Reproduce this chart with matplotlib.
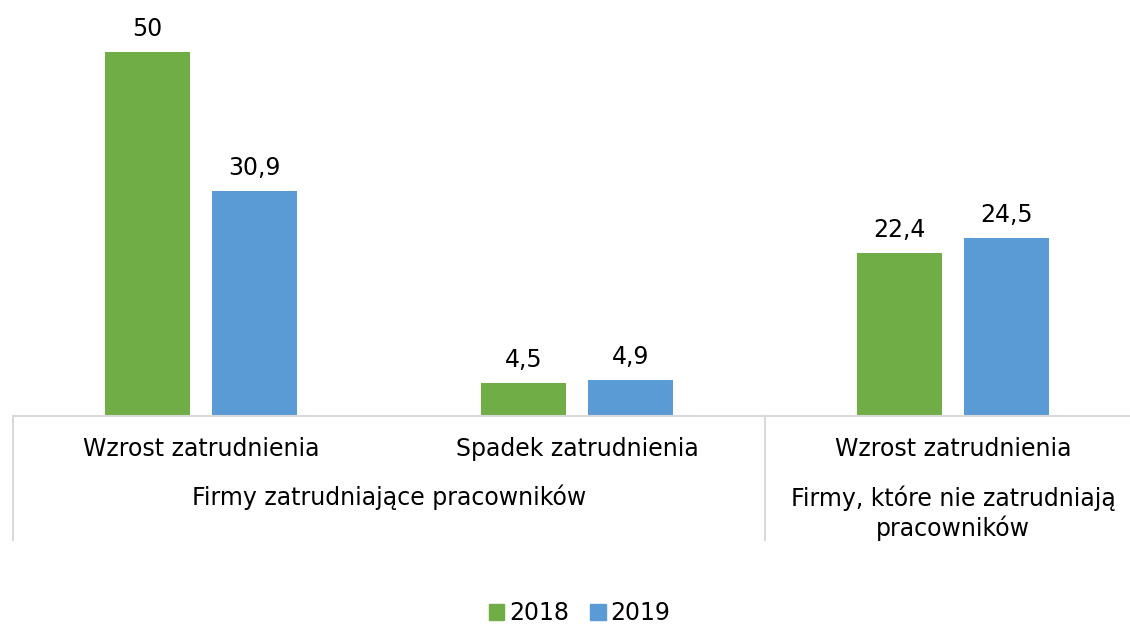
import matplotlib.pyplot as plt
import matplotlib.transforms as mtransforms
from matplotlib.patches import Patch
import numpy as np

# data
categories = ["Wzrost zatrudnienia", "Spadek zatrudnienia", "Wzrost zatrudnienia"]
groups = ["Firmy zatrudniające pracowników", "Firmy, które nie zatrudniają\npracowników"]
series = ["2018", "2019"]
values_2018 = [50, 4.5, 22.4]
values_2019 = [30.9, 4.9, 24.5]

green = "#70AD47"
blue = "#5B9BD5"
grid_col = "#D9D9D9"
fs = 17


def fmt(v):
    if float(v).is_integer():
        return str(int(v))
    return str(v).replace(".", ",")


fig = plt.figure(figsize=(11.3, 6.25), dpi=100)
ax = fig.add_axes([13 / 1130, 1 - 416 / 625, 1128 / 1130, 406 / 625])

x = np.arange(len(categories))
w = 0.224
off = 0.1425
b1 = ax.bar(x - off, values_2018, w, color=green)
b2 = ax.bar(x + off, values_2019, w, color=blue)
ax.bar_label(b1, labels=[fmt(v) for v in values_2018], padding=8, fontsize=fs)
ax.bar_label(b2, labels=[fmt(v) for v in values_2019], padding=8, fontsize=fs)

ax.set_xlim(-0.5, 2.5)
ax.set_ylim(0, 406 / 7.28)
ax.set_yticks([])
ax.set_xticks(x)
ax.set_xticklabels(categories, fontsize=fs)
ax.tick_params(axis="x", length=0, pad=15)
for s in ["top", "right", "left"]:
    ax.spines[s].set_visible(False)
ax.spines["bottom"].set_color(grid_col)
ax.spines["bottom"].set_linewidth(1.5)

trans = mtransforms.blended_transform_factory(ax.transData, ax.transAxes)
px = 1 / 406
# group labels
ax.text(0.5, -81 * px, groups[0], transform=trans, ha="center", va="center", fontsize=fs)
ax.text(2.0, -97 * px, groups[1], transform=trans, ha="center", va="center", fontsize=fs,
        linespacing=1.2)
# separators
for xs in [-0.5, 1.5]:
    ax.plot([xs, xs], [0, -124 * px], transform=trans, color=grid_col, lw=1.5, clip_on=False)

handles = [Patch(color=green), Patch(color=blue)]
fig.legend(handles, series, loc="center", bbox_to_anchor=(0.513, 1 - 613 / 625), ncol=2,
           frameon=False, fontsize=fs, handlelength=0.65, handleheight=0.65,
           handletextpad=0.2, columnspacing=0.9)

fig.savefig("out.png", dpi=100)
